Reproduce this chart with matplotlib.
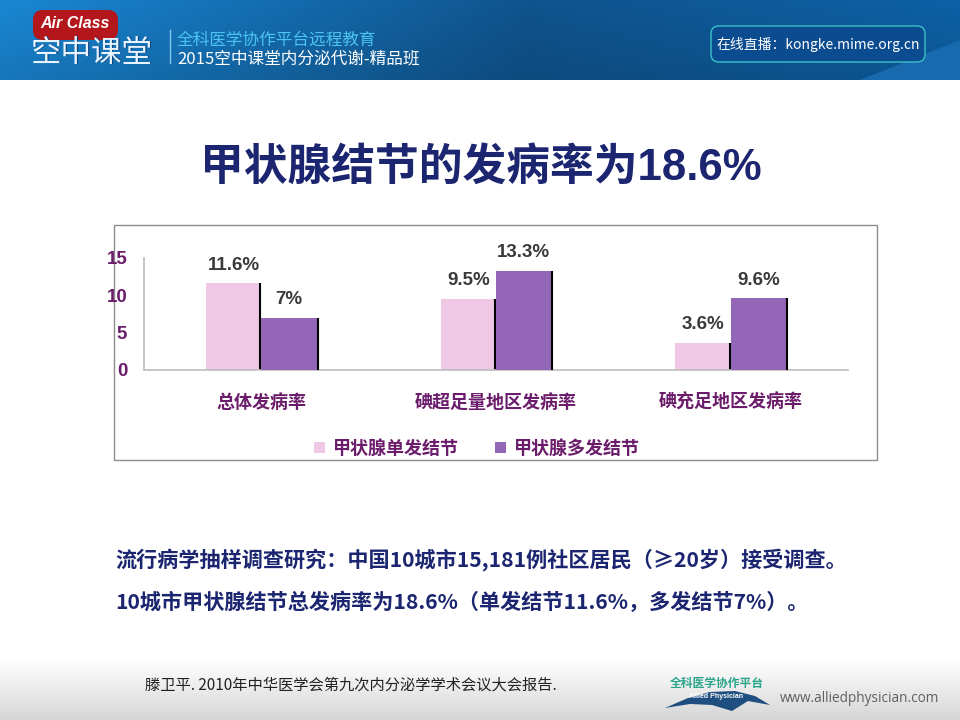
import numpy as np
import matplotlib
matplotlib.use('Agg')
import matplotlib.pyplot as plt
from matplotlib.patches import Rectangle, FancyBboxPatch, Polygon

plt.rcParams['font.family'] = ['Liberation Sans', 'Noto Sans CJK SC', 'DejaVu Sans']

# 数据
categories = ['总体发病率', '碘超足量地区发病率', '碘充足地区发病率']
single_nodule = [11.6, 9.5, 3.6]
multi_nodule = [7, 13.3, 9.6]
single_labels = ['11.6%', '9.5%', '3.6%']
multi_labels = ['7%', '13.3%', '9.6%']
series_names = ['甲状腺单发结节', '甲状腺多发结节']
y_ticks = [0, 5, 10, 15]

PINK = '#EFC8E6'
PURPLE = '#9466B7'
DARK_PURPLE = '#6B1D6B'
NAVY = '#1B2570'

fig = plt.figure(figsize=(9.6, 7.2), dpi=100)

# 背景层（像素坐标）
bg = fig.add_axes([0, 0, 1, 1])
bg.set_xlim(0, 960)
bg.set_ylim(720, 0)
bg.axis('off')

# 顶部蓝色渐变
xs = np.linspace(0, 1, 960)
ys = np.linspace(0, 1, 80)
left = np.array([0.10, 0.53, 0.83])
mid = np.array([0.06, 0.33, 0.56])
right = np.array([0.05, 0.38, 0.65])
hx = np.where(xs[:, None] < 0.55,
              left + (mid - left) * (xs[:, None] / 0.55),
              mid + (right - mid) * ((xs[:, None] - 0.55) / 0.45))
header = np.clip(hx[None, :, :] * (1.0 - 0.12 * ys[:, None, None]), 0, 1)
bg.imshow(header, extent=(0, 960, 80, 0), aspect='auto', zorder=0)
bg.add_patch(Polygon([(860, 80), (960, 40), (960, 80)], closed=True,
                     color='#1c6fb5', alpha=0.8, zorder=1, lw=0))

# 底部灰色渐变
foot = np.linspace(1.0, 0.84, 60)
footer = np.repeat(foot[:, None, None], 960, axis=1).repeat(3, axis=2)
bg.imshow(footer, extent=(0, 960, 720, 660), aspect='auto', zorder=0)

# 标志
bg.add_patch(FancyBboxPatch((33, 10), 85, 30, boxstyle='round,pad=0,rounding_size=10',
                            fc='#B3161B', ec='none', zorder=2))
bg.text(75, 24, 'Air Class', color='white', fontsize=11.5, fontweight='bold',
        style='italic', ha='center', va='center', zorder=3)
bg.text(93, 54, '空中课堂', color='#0b3f7a', fontsize=22, ha='center', va='center',
        family=['Noto Sans CJK SC'], zorder=3)
bg.text(92, 53, '空中课堂', color='#e8f4ff', fontsize=22, ha='center', va='center',
        family=['Noto Sans CJK SC'], zorder=3)
bg.plot([170, 170], [30, 63], color='#7fc8f0', lw=1, zorder=3)
bg.text(177, 40, '全科医学协作平台远程教育', color='#4CC3F2', fontsize=12,
        va='center', family=['Noto Sans CJK SC'], zorder=3)
bg.text(177, 59, '2015空中课堂内分泌代谢-精品班', color='white', fontsize=12,
        va='center', family=['Noto Sans CJK SC'], zorder=3)
bg.add_patch(FancyBboxPatch((711, 26), 214, 36, boxstyle='round,pad=0,rounding_size=8',
                            fc='#0b4b8f', ec='#3cc0c8', lw=1.0, zorder=2))
bg.text(818, 44, '在线直播：kongke.mime.org.cn', color='white', fontsize=10,
        ha='center', va='center', family=['Noto Sans CJK SC'], zorder=3)

# 标题
bg.text(481, 168, '甲状腺结节的发病率为18.6%', color=NAVY, fontsize=31.5,
        fontweight='bold', ha='center', va='center', zorder=3)

# 图表边框
bg.add_patch(Rectangle((114, 225), 763, 235, fill=False, ec='#8c8c8c', lw=1, zorder=1))

# 柱状图
ax = fig.add_axes([144 / 960, 1 - 370 / 720, 704 / 960, 112 / 720])
ax.set_facecolor('none')
x = np.arange(len(categories))
w = 0.236
ax.bar(x - w / 2, single_nodule, w, color=PINK, zorder=2, label=series_names[0])
ax.vlines(x - 0.004, 0, single_nodule, color='black', lw=1.5, zorder=2.5)
ax.bar(x + w / 2, multi_nodule, w, color=PURPLE, zorder=3, label=series_names[1])
ax.vlines(x + w + 0.004, 0, multi_nodule, color='black', lw=1.5, zorder=3.5)

for xi, v, t in zip(x - w / 2, single_nodule, single_labels):
    ax.annotate(t, (xi, v), xytext=(0, 7), textcoords='offset points',
                ha='center', va='bottom', fontsize=13.5, fontweight='bold', color='#3a3a3a')
for xi, v, t in zip(x + w / 2, multi_nodule, multi_labels):
    ax.annotate(t, (xi, v), xytext=(0, 7), textcoords='offset points',
                ha='center', va='bottom', fontsize=13.5, fontweight='bold', color='#3a3a3a')

ax.set_xlim(-0.5, 2.5)
ax.set_ylim(0, 15)
ax.set_yticks(y_ticks)
ax.set_xticks(x)
ax.set_xticklabels(categories)
ax.tick_params(axis='both', length=0)
ax.tick_params(axis='y', pad=12, labelsize=13.5, labelcolor=DARK_PURPLE)
ax.tick_params(axis='x', pad=17, labelsize=13, labelcolor=DARK_PURPLE)
for lab in ax.get_xticklabels() + ax.get_yticklabels():
    lab.set_fontweight('bold')
for s in ['top', 'right']:
    ax.spines[s].set_visible(False)
for s in ['left', 'bottom']:
    ax.spines[s].set_color('#bdbdbd')
    ax.spines[s].set_linewidth(1.2)

leg = fig.legend(loc='center', bbox_to_anchor=(477 / 960, 1 - 449 / 720), ncol=2,
                 frameon=False, handlelength=0.6, handleheight=0.6, handletextpad=0.45,
                 columnspacing=2.0, prop={'size': 13, 'weight': 'bold'})
for t in leg.get_texts():
    t.set_color(DARK_PURPLE)

# 说明文字
bg.text(115, 560, '流行病学抽样调查研究：中国10城市15,181例社区居民（≥20岁）接受调查。',
        color=NAVY, fontsize=15.2, fontweight='bold', va='center',
        family=['Noto Sans CJK SC', 'DejaVu Sans'], zorder=3)
bg.text(115, 602, '10城市甲状腺结节总发病率为18.6%（单发结节11.6%，多发结节7%）。',
        color=NAVY, fontsize=15.2, fontweight='bold', va='center',
        family=['Noto Sans CJK SC', 'DejaVu Sans'], zorder=3)

# 页脚
bg.text(145, 685, '滕卫平. 2010年中华医学会第九次内分泌学学术会议大会报告.',
        color='#222222', fontsize=11, va='center', family=['Noto Sans CJK SC'], zorder=3)
bg.text(717, 683, '全科医学协作平台', color='#2AA58A', fontsize=8.5, fontweight='bold',
        ha='center', va='center', family=['Noto Sans CJK SC'], zorder=3)
bg.add_patch(Polygon([(665, 708), (688, 698), (710, 692), (735, 691), (755, 696),
                      (770, 705), (748, 701), (732, 711), (712, 705), (690, 704)],
                     closed=True, fc='#1F4F80', ec='none', zorder=2))
bg.text(716, 697, 'Allied Physician', color='white', fontsize=5, fontweight='bold',
        ha='center', va='center', zorder=3)
bg.text(780, 699, 'www.alliedphysician.com', color='#606060', fontsize=9.8,
        va='center', family=['Open Sans'], zorder=3)

fig.savefig('out.png', dpi=100)
